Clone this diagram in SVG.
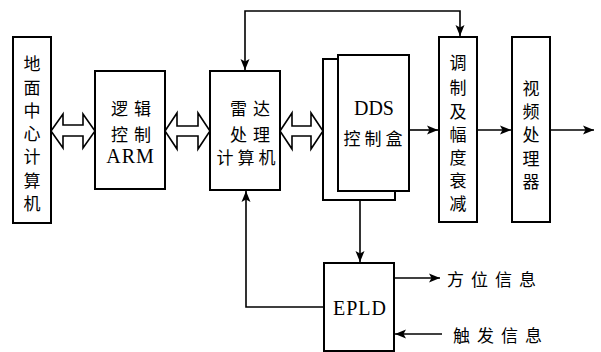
<svg xmlns="http://www.w3.org/2000/svg" width="601" height="352" viewBox="0 0 601 352">
<defs>
<marker id="ah" markerUnits="userSpaceOnUse" markerWidth="12" markerHeight="10" refX="11" refY="5" orient="auto-start-reverse">
<path d="M0,0.5 L11,5 L0,9.5 L2.5,5 Z" fill="#000"/>
</marker>
<style>
.box{fill:#fff;stroke:#000;stroke-width:2}
.dbl{fill:#fff;stroke:#000;stroke-width:1.6;stroke-linejoin:miter}
.ln{fill:none;stroke:#000;stroke-width:1.6}
.cn{font-family:"Noto Sans CJK SC","Noto Sans CJK JP",sans-serif;font-size:17px;fill:#000;text-anchor:middle;dominant-baseline:central}
.lt{font-family:"Liberation Serif",serif;font-size:20px;fill:#000;text-anchor:middle}
</style>
</defs>
<rect width="601" height="352" fill="#fff"/>

<g id="ground">
<rect class="box" x="13" y="37" width="38" height="186"/>
<text class="cn" x="32" y="62">地</text>
<text class="cn" x="32" y="86">面</text>
<text class="cn" x="32" y="109">中</text>
<text class="cn" x="32" y="132">心</text>
<text class="cn" x="32" y="155">计</text>
<text class="cn" x="32" y="179">算</text>
<text class="cn" x="32" y="202">机</text>
</g>

<g id="arm">
<rect class="box" x="95" y="71" width="70" height="118"/>
<text class="cn" x="134" y="107" letter-spacing="6">逻辑</text>
<text class="cn" x="134" y="133" letter-spacing="6">控制</text>
<text class="lt" x="130.5" y="163" letter-spacing="1">ARM</text>
</g>

<g id="radar">
<rect class="box" x="210" y="71" width="70" height="119"/>
<text class="cn" x="253" y="107" letter-spacing="6">雷达</text>
<text class="cn" x="253" y="133" letter-spacing="6">处理</text>
<text class="cn" x="248" y="156" letter-spacing="4">计算机</text>
</g>

<g id="dds">
<rect class="box" x="323" y="59" width="72" height="141"/>
<rect class="box" x="338" y="55" width="71" height="136"/>
<text class="lt" x="374" y="115">DDS</text>
<text class="cn" x="375" y="137" letter-spacing="4">控制盒</text>
</g>

<g id="mod">
<rect class="box" x="439" y="37" width="38" height="185"/>
<text class="cn" x="458" y="61">调</text>
<text class="cn" x="458" y="86">制</text>
<text class="cn" x="458" y="110">及</text>
<text class="cn" x="458" y="133">幅</text>
<text class="cn" x="458" y="156">度</text>
<text class="cn" x="458" y="179">衰</text>
<text class="cn" x="458" y="202">减</text>
</g>

<g id="video">
<rect class="box" x="512" y="37" width="38" height="185"/>
<text class="cn" x="531" y="87">视</text>
<text class="cn" x="531" y="110">频</text>
<text class="cn" x="531" y="133">处</text>
<text class="cn" x="531" y="157">理</text>
<text class="cn" x="531" y="180">器</text>
</g>

<g id="epld">
<rect class="box" x="324" y="263" width="70" height="88"/>
<text class="lt" x="360" y="315" letter-spacing="1">EPLD</text>
</g>

<g id="labels">
<text class="cn" x="495" y="278" letter-spacing="7">方位信息</text>
<text class="cn" x="501" y="334" letter-spacing="7">触发信息</text>
</g>

<g id="connectors">
<polygon class="dbl" points="51,131 63,114 63,125 83,125 83,114 95,131 83,148 83,136 63,136 63,148"/>
<polygon class="dbl" points="165,131 177,113 177,126 198,126 198,113 210,131 198,149 198,136 177,136 177,149"/>
<polygon class="dbl" points="280,131 292,113 292,126 311,126 311,113 323,131 311,149 311,136 292,136 292,149"/>
<path class="ln" d="M245,70 V11 H460 V36" marker-start="url(#ah)" marker-end="url(#ah)"/>
<path class="ln" d="M409,130 H438" marker-end="url(#ah)"/>
<path class="ln" d="M477,130 H511" marker-end="url(#ah)"/>
<path class="ln" d="M550,130 H594" marker-end="url(#ah)"/>
<path class="ln" d="M360,200 V262" marker-end="url(#ah)"/>
<path class="ln" d="M324,307 H246 V191" marker-end="url(#ah)"/>
<path class="ln" d="M394,278 H440" marker-end="url(#ah)"/>
<path class="ln" d="M442,334 H395" marker-end="url(#ah)"/>
</g>
</svg>
